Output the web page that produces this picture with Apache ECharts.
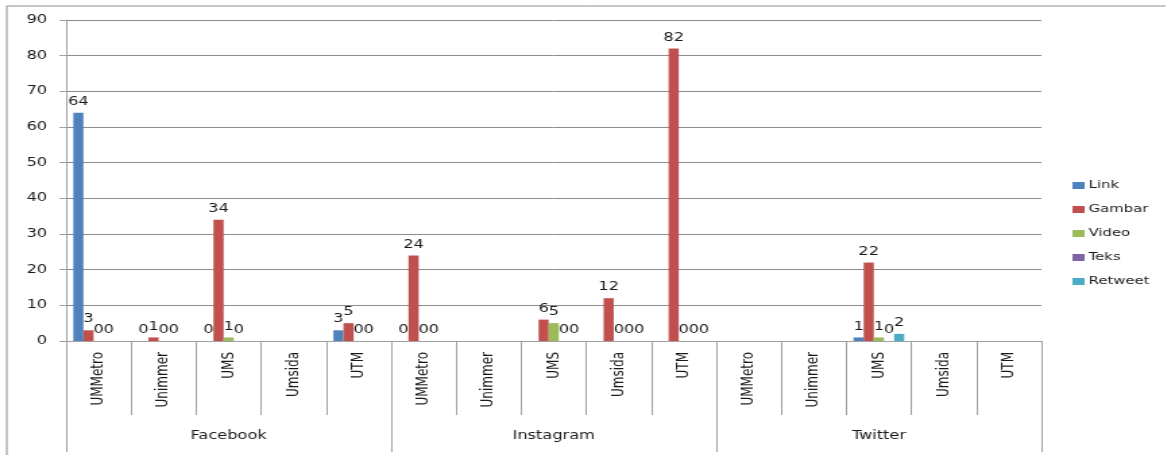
<!DOCTYPE html>
<html>
<head>
<meta charset="utf-8">
<script src="https://cdn.jsdelivr.net/npm/echarts@6/dist/echarts.min.js"></script>
<style>
  html, body { margin: 0; padding: 0; background: #fff; overflow: hidden; }
  /* gambar asli melebar ke samping, jadi chart digambar sempit lalu ditarik */
  #chart { width: 868px; height: 455px; transform: scaleX(1.349); transform-origin: 0 0; }
</style>
</head>
<body>
<div id="chart"></div>
<script>
// data
const platforms = ['Facebook', 'Instagram', 'Twitter'];
const campuses = ['UMMetro', 'Unimmer', 'UMS', 'Umsida', 'UTM'];
const categories = [].concat(campuses, campuses, campuses);

const link    = [64, 0, 0, null, 3,   0, null, null, null, null,   null, null, 1, null, null];
const gambar  = [3, 1, 34, null, 5,   24, null, 6, 12, 82,        null, null, 22, null, null];
const video   = [0, 0, 1, null, 0,    0, null, 5, 0, 0,           null, null, 1, null, null];
const teks    = [0, 0, 0, null, 0,    0, null, 0, 0, 0,           null, null, 0, null, null];
const retweet = [null, null, null, null, null,   null, null, 0, 0, 0,   null, null, 2, null, null];

const yTicks = { min: 0, max: 90, interval: 10 };

const seriesInfo = [
    { name: 'Link', data: link, color: '#4F81BD' },
    { name: 'Gambar', data: gambar, color: '#C0504D' },
    { name: 'Video', data: video, color: '#9BBB59' },
    { name: 'Teks', data: teks, color: '#8064A2' },
    { name: 'Retweet', data: retweet, color: '#4BACC6' }
];

const font = 'DejaVu Sans';
const textColor = '#1a1a1a';
const lineGrey = '#a0a0a0';

const chart = echarts.init(document.getElementById('chart'));

const option = {
    animation: false,
    grid: { left: 49, right: 96, top: 20, bottom: 114, containLabel: false },
    legend: {
        orient: 'vertical',
        left: 790,
        top: 175,
        icon: 'rect',
        itemWidth: 9,
        itemHeight: 7,
        itemGap: 13,
        textStyle: { fontFamily: font, fontSize: 11, color: textColor, padding: [0, 0, 0, -2] },
        data: seriesInfo.map(s => s.name)
    },
    xAxis: [
        {
            type: 'category',
            data: categories,
            position: 'bottom',
            axisLine: { show: true, lineStyle: { color: lineGrey } },
            axisTick: { show: true, length: 74, interval: 0, lineStyle: { color: lineGrey } },
            axisLabel: { rotate: 90, interval: 0, margin: 11, fontFamily: font, fontSize: 12, color: textColor },
            splitLine: { show: false }
        },
        {
            type: 'category',
            data: platforms,
            position: 'bottom',
            axisLine: { show: false },
            axisTick: { show: true, length: 111, interval: 0, lineStyle: { color: lineGrey } },
            axisLabel: { interval: 0, margin: 89, fontFamily: font, fontSize: 12, color: textColor },
            splitLine: { show: false }
        }
    ],
    yAxis: {
        type: 'value',
        min: yTicks.min,
        max: yTicks.max,
        interval: yTicks.interval,
        axisLine: { show: true, lineStyle: { color: lineGrey } },
        axisTick: { show: true, length: 5, lineStyle: { color: lineGrey } },
        axisLabel: { margin: 14, fontFamily: font, fontSize: 12, color: textColor },
        splitLine: { show: true, lineStyle: { color: '#8c8c8c', width: 1 } }
    },
    // garis tepi area chart (atas dan kiri)
    graphic: [
        { type: 'line', shape: { x1: 5, y1: 6, x2: 864, y2: 6 }, style: { stroke: '#8c8c8c', lineWidth: 1 } },
        { type: 'line', shape: { x1: 5, y1: 6, x2: 5, y2: 455 }, style: { stroke: '#8c8c8c', lineWidth: 1 } }
    ],
    series: seriesInfo.map(s => ({
        name: s.name,
        type: 'bar',
        xAxisIndex: 0,
        data: s.data,
        barGap: '0%',
        barCategoryGap: '22%',
        itemStyle: { color: s.color },
        label: {
            show: true,
            position: 'top',
            distance: 5,
            fontFamily: font,
            fontSize: 12,
            color: textColor
        }
    }))
};

chart.setOption(option);
</script>
</body>
</html>
